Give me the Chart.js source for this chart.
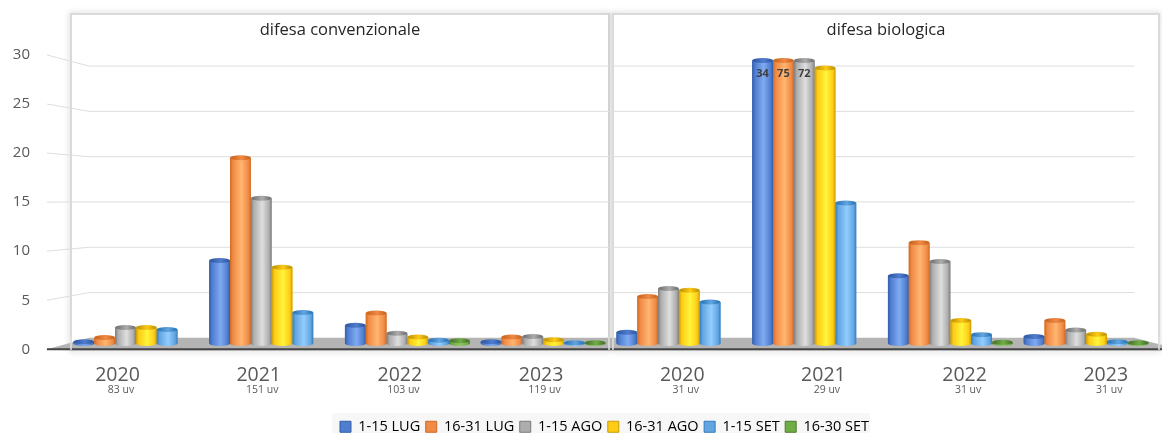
<!DOCTYPE html>
<html>
<head>
<meta charset="utf-8">
<title>Difesa convenzionale e biologica</title>
<script src="https://cdn.jsdelivr.net/npm/chart.js@4/dist/chart.umd.js"></script>
<style>
  html, body { margin: 0; padding: 0; background: #fff; }
  #wrap { position: relative; width: 1162px; height: 433px; }
</style>
</head>
<body>
<div id="wrap"><canvas id="barChart" width="1162" height="433"></canvas></div>
<script>
var years = ['2020', '2021', '2022', '2023', '2020', '2021', '2022', '2023'];
var uvLabels = ['83 uv', '151 uv', '103 uv', '119 uv', '31 uv', '29 uv', '31 uv', '31 uv'];
var yTicks = [0, 5, 10, 15, 20, 25, 30];
var panelTitles = ['difesa convenzionale', 'difesa biologica'];
var periods = ['1-15 LUG', '16-31 LUG', '1-15 AGO', '16-31 AGO', '1-15 SET', '16-30 SET'];

var lug1 = [0.2, 8.8, 1.95, 0.2, 1.2, 34, 7.2, 0.75];
var lug2 = [0.65, 19.7, 3.25, 0.7, 5.0, 75, 10.7, 2.45];
var ago1 = [1.7, 15.4, 1.1, 0.75, 5.85, 72, 8.7, 1.45];
var ago2 = [1.7, 8.1, 0.7, 0.4, 5.65, 29.2, 2.45, 1.0];
var set1 = [1.5, 3.3, 0.35, 0.1, 4.4, 14.9, 0.95, 0.2];
var set2 = [0, 0, 0.3, 0.1, 0, 0, 0.15, 0.1];

var seriesValues = [lug1, lug2, ago1, ago2, set1, set2];

// edge / light / mid colour of each cylinder
var shades = [
  ['#335da6', '#80abf2', '#4f7dd0'],
  ['#cf6a24', '#ffb671', '#f08a45'],
  ['#7a7a7a', '#dedede', '#adadad'],
  ['#c79a08', '#fff53c', '#ffcb14'],
  ['#327cbd', '#92cdff', '#63a5e0'],
  ['#4d7a2f', '#8fc564', '#70ad47']
];

var FONT = '"Open Sans", sans-serif';
var TEXT = '#595959';

// perspective of the box: everything is drawn on the middle plane and
// the back wall / front edge are scaled around this point
var VP_X = 595, VP_Y = 200, BACK = 0.96, FRONT = 1.04;
function project(x, y, s) {
  return { x: VP_X + (x - VP_X) * s, y: VP_Y + (y - VP_Y) * s };
}

function barGradient(c, bar, colors) {
  var half = bar.width / 2;
  var g = c.createLinearGradient(bar.x - half, 0, bar.x + half, 0);
  g.addColorStop(0, colors[0]);
  g.addColorStop(0.14, colors[2]);
  g.addColorStop(0.55, colors[1]);
  g.addColorStop(0.88, colors[2]);
  g.addColorStop(1, colors[0]);
  return g;
}

var boxPlugin = {
  id: 'box3d',
  // nudge the legend left so it sits centred on its strip
  afterLayout: function (chart) {
    chart.legend.left -= 6.5;
    chart.legend.right -= 6.5;
  },
  // runs before the legend so the strip stays behind it
  beforeDraw: function (chart) {
    var c = chart.ctx;
    c.save();
    c.fillStyle = '#f7f7f7';
    c.fillRect(332, 413, 538, 20);

    // panel frames
    c.shadowColor = 'rgba(0,0,0,0.28)';
    c.shadowBlur = 6;
    c.strokeStyle = '#dadada';
    c.lineWidth = 2;
    c.strokeRect(71, 14, 538, 336);
    c.strokeRect(613, 14, 546, 336);
    c.shadowColor = 'transparent';
    c.fillStyle = '#fff';
    c.fillRect(72, 15, 536, 334);
    c.fillRect(614, 15, 544, 334);
    c.restore();
  },
  beforeDatasetsDraw: function (chart) {
    var c = chart.ctx, a = chart.chartArea, y = chart.scales.y;
    c.save();

    // gridlines on the back wall plus the diagonal on the side wall
    c.strokeStyle = '#dedede';
    c.lineWidth = 1;
    yTicks.forEach(function (t) {
      if (t === 0) return;
      var py = y.getPixelForValue(t);
      var f = project(a.left, py, FRONT);
      var b = project(a.left, py, BACK);
      var e = project(a.right + 3, py, BACK);
      c.beginPath();
      c.moveTo(f.x, f.y);
      c.lineTo(b.x, b.y);
      c.lineTo(e.x, e.y);
      c.stroke();
    });

    // floor
    var base = y.getPixelForValue(0);
    var bl = project(a.left, base, BACK);
    var br = project(a.right + 3, base, BACK);
    var fl = project(a.left, base, FRONT);
    var fr = project(a.right + 3, base, FRONT);
    c.fillStyle = '#b4b4b4';
    c.beginPath();
    c.moveTo(bl.x, bl.y);
    c.lineTo(br.x, br.y);
    c.lineTo(fr.x, fr.y);
    c.lineTo(fl.x, fl.y);
    c.closePath();
    c.fill();
    c.strokeStyle = '#454545';
    c.lineWidth = 2;
    c.beginPath();
    c.moveTo(fl.x, fl.y);
    c.lineTo(fr.x, fr.y);
    c.stroke();

    // frame uprights stay visible across the floor
    c.fillStyle = 'rgba(225,225,225,0.75)';
    c.fillRect(70, 337, 2, 13);
    c.fillRect(608, 337, 2, 13);
    c.fillRect(612, 337, 2, 13);
    c.fillRect(1158, 337, 2, 13);
    c.restore();
  },
  afterDatasetsDraw: function (chart) {
    var c = chart.ctx, a = chart.chartArea, y = chart.scales.y;
    c.save();

    chart.data.datasets.forEach(function (ds, i) {
      chart.getDatasetMeta(i).data.forEach(function (bar, k) {
        if (!seriesValues[i][k]) return;
        var rx = bar.width / 2;
        var top = Math.max(bar.y, a.top);
        var lidColors = [shades[i][0], shades[i][2], shades[i][0]];
        // body with its rounded foot, painted over the flat bar
        c.fillStyle = barGradient(c, bar, shades[i]);
        c.beginPath();
        c.moveTo(bar.x - rx, top);
        c.lineTo(bar.x + rx, top);
        c.lineTo(bar.x + rx, bar.base);
        c.ellipse(bar.x, bar.base, rx, 2.5, 0, 0, Math.PI);
        c.closePath();
        c.fill();
        // lid
        c.fillStyle = barGradient(c, bar, lidColors);
        c.beginPath();
        c.ellipse(bar.x, top, rx, 2.5, 0, 0, Math.PI * 2);
        c.fill();
        // values above the axis maximum are written on the bar
        if (seriesValues[i][k] > y.max) {
          c.fillStyle = '#404040';
          c.font = 'bold 11px ' + FONT;
          c.textAlign = 'center';
          c.textBaseline = 'middle';
          c.fillText(String(seriesValues[i][k]), bar.x, top + 13);
        }
      });
    });

    c.fillStyle = TEXT;
    c.textBaseline = 'middle';

    // value axis, on the front plane
    c.font = '15px ' + FONT;
    c.textAlign = 'right';
    yTicks.forEach(function (t) {
      var p = project(a.left, y.getPixelForValue(t), FRONT);
      c.fillText(String(t), 30, p.y);
    });

    // years and number of uv under the front edge
    var x = chart.scales.x;
    var base = y.getPixelForValue(0);
    c.textAlign = 'center';
    years.forEach(function (yr, k) {
      var p = project(x.getPixelForValue(k), base, FRONT);
      c.font = '19.5px ' + FONT;
      c.fillText(yr, p.x, 375);
      c.font = '10.5px ' + FONT;
      c.fillText(uvLabels[k], p.x + 3.5, 390);
    });

    // panel titles
    c.fillStyle = '#262626';
    c.font = '16.5px ' + FONT;
    c.fillText(panelTitles[0], 340, 30);
    c.fillText(panelTitles[1], 886, 30);
    c.restore();
  }
};

new Chart(document.getElementById('barChart'), {
  type: 'bar',
  data: {
    labels: years,
    datasets: periods.map(function (p, i) {
      return {
        label: p,
        data: seriesValues[i],
        backgroundColor: shades[i][2],
        borderWidth: 0,
        categoryPercentage: 0.92,
        barPercentage: 1
      };
    })
  },
  options: {
    responsive: false,
    animation: false,
    layout: { padding: { left: 68, right: 8, top: 60.5, bottom: -11 } },
    scales: {
      x: {
        // labels are drawn on the front edge, the axis only keeps the room
        afterFit: function (scale) { scale.height = 70.4; },
        ticks: { display: false },
        grid: { display: false },
        border: { display: false }
      },
      y: { display: false, min: 0, max: 30, ticks: { stepSize: 5 } }
    },
    plugins: {
      title: { display: false },
      tooltip: { enabled: false },
      legend: {
        display: true,
        position: 'bottom',
        labels: {
          boxWidth: 11,
          boxHeight: 11,
          padding: 5.5,
          color: TEXT,
          font: { family: '"Open Sans", sans-serif', size: 14.5 },
          generateLabels: function () {
            return periods.map(function (p, i) {
              return {
                text: p,
                fillStyle: shades[i][2],
                strokeStyle: shades[i][0],
                lineWidth: 1,
                datasetIndex: i
              };
            });
          }
        }
      }
    }
  },
  plugins: [boxPlugin]
});
</script>
</body>
</html>
